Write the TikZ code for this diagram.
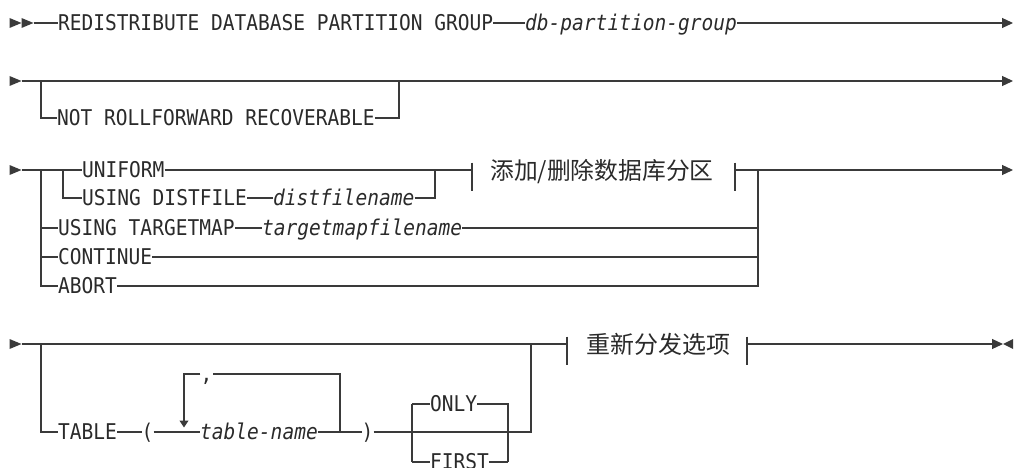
\documentclass[tikz,border=0pt]{standalone}
\usepackage{fontspec}
\newfontfamily\syn[FakeStretch=0.9]{DejaVu Sans Mono}
\newfontfamily\cjk{Noto Sans CJK SC}
\usetikzlibrary{arrows.meta}
\definecolor{ink}{HTML}{2A2A2A}
\definecolor{rule}{HTML}{3A3A3A}
\begin{document}
\begin{tikzpicture}[x=1pt,y=-1pt,
  kw/.style={anchor=west,inner sep=0pt,text height=15pt,text depth=0pt,font=\syn\fontsize{21.7}{24}\selectfont,text=ink},
  var/.style={kw,font=\syn\itshape\fontsize{21.7}{24}\selectfont},
  frag/.style={anchor=west,inner sep=0pt,text height=18pt,text depth=0pt,font=\cjk\fontsize{24}{26}\selectfont,text=ink},
  ln/.style={draw=rule,line width=1.15pt},
  endtip/.style={-{Triangle[length=11pt,width=10pt]}},
  looptip/.style={-{Triangle[length=7pt,width=9pt]}},
  tri/.style={fill=rule}]
\useasboundingbox (0,0) rectangle (1014,468);

% ---------- row 1
\fill[tri] (9.5,18) -- (21.5,23) -- (9.5,28) -- cycle;
\fill[tri] (21.5,18) -- (33.5,23) -- (21.5,28) -- cycle;
\coordinate (r1a) at (33.5,23);
\coordinate (r1z) at (1013,23);
\node[kw] (redist) at (58,23) {REDISTRIBUTE DATABASE PARTITION GROUP};
\node[var] (dbpg) at (525,23) {db-partition-group};
\draw[ln] (r1a) -- (redist.west);
\draw[ln] (redist.east) -- (dbpg.west);
\draw[ln,endtip] (dbpg.east) -- (r1z);

% ---------- row 2
\fill[tri] (9.5,76) -- (21.5,81) -- (9.5,86) -- cycle;
\coordinate (r2a) at (21.5,81);
\coordinate (r2z) at (1013,81);
\coordinate (r2l) at (41,81);
\coordinate (r2r) at (399,81);
\node[kw] (nrr) at (57,118) {NOT ROLLFORWARD RECOVERABLE};
\draw[ln,endtip] (r2a) -- (r2z);
\draw[ln] (r2l) |- (nrr.west);
\draw[ln] (nrr.east) -| (r2r);

% ---------- row 3
\fill[tri] (9.5,165) -- (21.5,170) -- (9.5,175) -- cycle;
\coordinate (r3a) at (21.5,170);
\coordinate (r3l) at (41,170);
\coordinate (r3i) at (63,170);
\coordinate (r3ir) at (435,170);
\coordinate (r3r) at (758,170);
\coordinate (r3z) at (1013,170);
\coordinate (b1l) at (472,170);
\coordinate (b1r) at (735,170);
\node[kw] (uni) at (82,170) {UNIFORM};
\node[kw] (udf) at (82,198) {USING DISTFILE};
\node[var] (dfn) at (273,198) {distfilename};
\node[kw] (utm) at (58,228) {USING TARGETMAP};
\node[var] (tmf) at (262,228) {targetmapfilename};
\node[kw] (cont) at (58,257) {CONTINUE};
\node[kw] (abort) at (58,286) {ABORT};
\node[frag,font=\cjk\fontsize{23.8}{26}\selectfont] (frag1) at (490,170) {添加/删除数据库分区};
\draw[ln] (r3a) -- (uni.west);
\draw[ln] (uni.east) -- (b1l);
\draw[ln] (472,162.5) -- (472,191);
\draw[ln] (735,162.5) -- (735,191);
\draw[ln,endtip] (b1r) -- (r3z);
\draw[ln] (r3i) |- (udf.west);
\draw[ln] (udf.east) -- (dfn.west);
\draw[ln] (dfn.east) -| (r3ir);
\draw[ln] (r3l) |- (abort.west);
\draw[ln] (r3l |- utm.west) -- (utm.west);
\draw[ln] (r3l |- cont.west) -- (cont.west);
\draw[ln] (utm.east) -- (tmf.west);
\draw[ln] (tmf.east) -- (r3r |- tmf.east);
\draw[ln] (cont.east) -- (r3r |- cont.east);
\draw[ln] (abort.east) -| (r3r);

% ---------- row 4
\fill[tri] (9.5,339) -- (21.5,344) -- (9.5,349) -- cycle;
\coordinate (r4a) at (21.5,344);
\coordinate (r4l) at (41,344);
\coordinate (r4r) at (531,344);
\coordinate (b4l) at (567,344);
\coordinate (b4r) at (747,344);
\coordinate (r4z) at (1003,344);
\coordinate (loopR) at (340,432);
\coordinate (loopD) at (184,427.5);
\coordinate (oL) at (412,432);
\coordinate (oR) at (508,432);
\node[kw] (table) at (58,432) {TABLE};
\node[kw] (lp) at (141.5,432) {(};
\node[var] (tn) at (200,432) {table-name};
\node[kw] (rp) at (361.5,432) {)};
\node[kw,anchor=center] (comma) at (206.5,374) {,};
\node[kw] (only) at (430,404) {ONLY};
\node[kw] (first) at (430,462) {FIRST};
\node[frag] (frag2) at (586,344) {重新分发选项};
\draw[ln] (r4a) -- (b4l);
\draw[ln] (567,336.5) -- (567,365);
\draw[ln] (747,336.5) -- (747,365);
\draw[ln,endtip] (b4r) -- (r4z);
\fill[tri] (1013,339) -- (1003,344) -- (1013,349) -- cycle;
\draw[ln] (r4l) |- (table.west);
\draw[ln] (table.east) -- (lp.west);
\draw[ln] (lp.east) -- (tn.west);
\draw[ln] (tn.east) -- (rp.west);
\draw[ln] (rp.east) -| (r4r);
\draw[ln] (loopR) |- (comma.east);
\draw[ln,looptip] (comma.west) -| (loopD);
\draw[ln] (oL |- only.west) -- (only.west);
\draw[ln] (oL |- first.west) -- (first.west);
\draw[ln] (oL |- only.west) -- (oL |- first.west);
\draw[ln] (only.east) -| (oR |- first.east);
\draw[ln] (first.east) -- (oR |- first.east);
\end{tikzpicture}
\end{document}
